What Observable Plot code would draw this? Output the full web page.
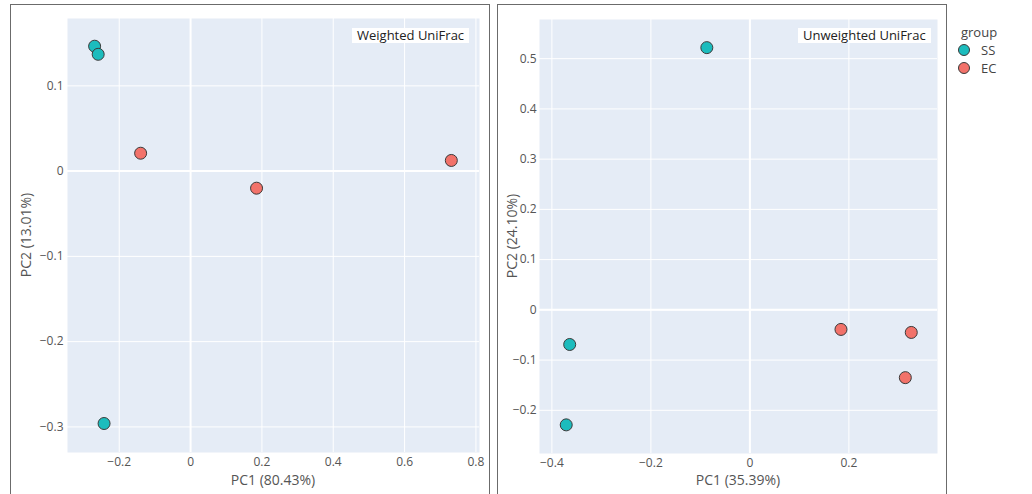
<!DOCTYPE html>
<html>
<head>
<meta charset="utf-8">
<script src="https://cdn.jsdelivr.net/npm/d3@7"></script>
<script src="https://cdn.jsdelivr.net/npm/@observablehq/plot@0.6"></script>
<style>
  html, body { margin: 0; padding: 0; background: #fff; }
  #root { position: relative; width: 1032px; height: 494px; overflow: hidden; font-family: "Open Sans", sans-serif; }
  .panel-border { position: absolute; border: 1.5px solid #6b6b6b; box-sizing: border-box; }
  .note { position: absolute; background: #fff; color: #222; font-size: 13px; line-height: 15px; height: 15px; padding: 0 5px; white-space: nowrap; }
  .axlabel { position: absolute; color: #555; font-size: 14px; white-space: nowrap; transform: translate(-50%, -50%); }
  .ylabel { transform: translate(-50%, -50%) rotate(-90deg); }
  .leg { position: absolute; color: #444; font-size: 13px; white-space: nowrap; }
</style>
</head>
<body>
<div id="root"></div>
<script>
// ---- data ----
const groupOrder = ["SS", "EC"];
const groupColors = ["#1cbcbd", "#f2726a"];
const sampleGroups = ["SS", "SS", "SS", "EC", "EC", "EC"];

const weightedPC1 = [-0.269, -0.259, -0.2425, -0.140, 0.185, 0.731];
const weightedPC2 = [0.1465, 0.137, -0.296, 0.021, -0.020, 0.0125];
const weightedXTicks = [-0.2, 0, 0.2, 0.4, 0.6, 0.8];
const weightedYTicks = [-0.3, -0.2, -0.1, 0, 0.1];

const unweightedPC1 = [-0.087, -0.364, -0.371, 0.184, 0.326, 0.314];
const unweightedPC2 = [0.522, -0.069, -0.229, -0.039, -0.045, -0.135];
const unweightedXTicks = [-0.4, -0.2, 0, 0.2];
const unweightedYTicks = [-0.2, -0.1, 0, 0.1, 0.2, 0.3, 0.4, 0.5];

const root = document.getElementById("root");
const fmt = v => (v < 0 ? "\u2212" : "") + String(+Math.abs(v).toFixed(3));

function panel(o) {
  const data = sampleGroups.map((g, i) => ({group: g, pc1: o.pc1[i], pc2: o.pc2[i]}));
  const svg = Plot.plot({
    width: o.width, height: 494,
    marginLeft: o.ml, marginRight: o.mr, marginTop: o.mt, marginBottom: o.mb,
    style: {background: "transparent", fontFamily: "Open Sans", fontSize: "12px", color: "#555", overflow: "visible"},
    x: {domain: o.xDomain, label: null},
    y: {domain: o.yDomain, label: null},
    color: {domain: groupOrder, range: groupColors},
    marks: [
      Plot.frame({fill: "#e5ecf6", stroke: null}),
      Plot.gridX(o.xTicks, {stroke: "#fff", strokeOpacity: 1, strokeWidth: 1}),
      Plot.gridY(o.yTicks, {stroke: "#fff", strokeOpacity: 1, strokeWidth: 1}),
      Plot.ruleX([0], {stroke: "#fff", strokeWidth: 2}),
      Plot.ruleY([0], {stroke: "#fff", strokeWidth: 2}),
      Plot.axisX(o.xTicks, {tickSize: 0, tickPadding: 5, label: null, fill: "#555", tickFormat: fmt}),
      Plot.axisY(o.yTicks, {tickSize: 0, tickPadding: o.ypad, label: null, fill: "#555", tickFormat: fmt}),
      Plot.dot(data, {x: "pc1", y: "pc2", fill: "group", r: 6, stroke: "#3a3a3a", strokeWidth: 1, fillOpacity: 1})
    ]
  });
  svg.style.position = "absolute";
  svg.style.left = o.left + "px";
  svg.style.top = "0px";
  return svg;
}

function addDiv(cls, css, text) {
  const d = document.createElement("div");
  d.className = cls;
  Object.assign(d.style, css);
  if (text != null) d.textContent = text;
  root.appendChild(d);
  return d;
}

root.appendChild(panel({
  pc1: weightedPC1, pc2: weightedPC2,
  xDomain: [-0.345, 0.81], yDomain: [-0.33, 0.179],
  xTicks: weightedXTicks, yTicks: weightedYTicks,
  left: 0, width: 489, ml: 67, mr: 10, mt: 18, mb: 42, ypad: 4
}));
root.appendChild(panel({
  pc1: unweightedPC1, pc2: unweightedPC2,
  xDomain: [-0.425, 0.379], yDomain: [-0.286, 0.578],
  xTicks: unweightedXTicks, yTicks: unweightedYTicks,
  left: 490, width: 460, ml: 49, mr: 13, mt: 19, mb: 41, ypad: 3
}));

addDiv("panel-border", {left: "10px", top: "4px", width: "480px", height: "492px"});
addDiv("panel-border", {left: "497px", top: "4px", width: "450px", height: "492px"});

addDiv("note", {left: "352px", top: "28px"}, "Weighted UniFrac");
addDiv("note", {left: "798px", top: "28px"}, "Unweighted UniFrac");

addDiv("axlabel", {left: "273px", top: "479px"}, "PC1 (80.43%)");
addDiv("axlabel ylabel", {left: "25px", top: "235px"}, "PC2 (13.01%)");
addDiv("axlabel", {left: "738px", top: "479px"}, "PC1 (35.39%)");
addDiv("axlabel ylabel", {left: "511px", top: "236px"}, "PC2 (24.10%)");

// legend
addDiv("leg", {left: "961px", top: "23px"}, "group");
groupOrder.forEach((g, i) => {
  const y = 50 + i * 18;
  const sw = document.createElementNS("http://www.w3.org/2000/svg", "svg");
  sw.setAttribute("width", 14); sw.setAttribute("height", 14);
  sw.style.position = "absolute"; sw.style.left = "957px"; sw.style.top = (y - 7) + "px";
  const c = document.createElementNS("http://www.w3.org/2000/svg", "circle");
  c.setAttribute("cx", 7); c.setAttribute("cy", 7); c.setAttribute("r", 5.5);
  c.setAttribute("fill", groupColors[i]); c.setAttribute("stroke", "#3a3a3a"); c.setAttribute("stroke-width", 1);
  sw.appendChild(c);
  root.appendChild(sw);
  addDiv("leg", {left: "981px", top: (y - 9) + "px"}, g);
});
</script>
</body>
</html>
